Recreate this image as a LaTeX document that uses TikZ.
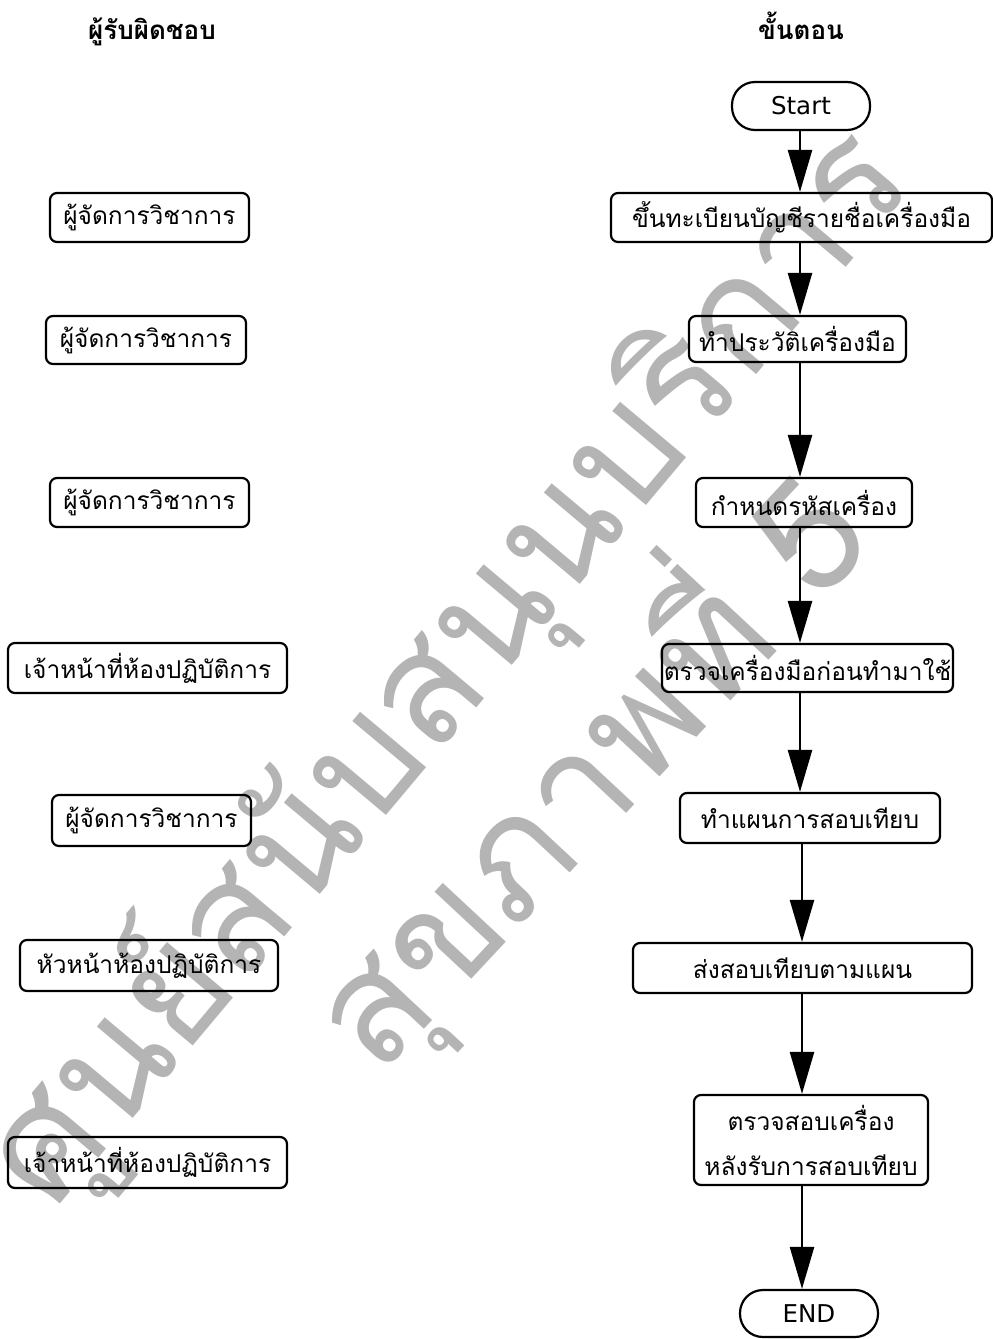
\documentclass[tikz,border=0pt]{standalone}
\usepackage{fontspec}
\newfontfamily\thai[Script=Thai]{Loma}
\newfontfamily\lat{DejaVu Sans}
\usetikzlibrary{arrows.meta}
\definecolor{wm}{RGB}{180,180,180}
\tikzset{
 box/.style={draw, line width=2.2pt, rounded corners=7pt, inner sep=0pt, align=center, font=\thai\fontsize{24.5}{45}\selectfont},
 term/.style={draw, line width=2.2pt, rounded corners=23pt, inner sep=0pt, font=\lat\fontsize{24.5}{28}\selectfont},
 head/.style={anchor=base, inner sep=0pt, font=\thai\bfseries\fontsize{26}{30}\selectfont},
 flow/.style={line width=2.5pt, -{Triangle[width=24pt,length=42pt]}},
 wmark/.style={text=wm, font=\thai\fontsize{155}{155}\selectfont, inner sep=0pt}
}
\begin{document}
\begin{tikzpicture}[x=1pt,y=-1pt]
\useasboundingbox (0,0) rectangle (993,1339);
% watermark
\node[wmark, rotate=50] (w1) at (448,668) {ศูนย์สนับสนุนบริการ};
\node[wmark, rotate=47] (w2) at (585,770) {สุขภาพที่ 5};
% headers
\node[head] (h1) at (152,39) {ผู้รับผิดชอบ};
\node[head] (h2) at (801,39) {ขั้นตอน};
% responsible
\node[box, minimum width=199pt, minimum height=49pt] (r1) at (149.5,217.5) {ผู้จัดการวิชาการ};
\node[box, minimum width=200pt, minimum height=48pt] (r2) at (146,340) {ผู้จัดการวิชาการ};
\node[box, minimum width=199pt, minimum height=49pt] (r3) at (149.5,502.5) {ผู้จัดการวิชาการ};
\node[box, minimum width=279pt, minimum height=50pt] (r4) at (147.5,668) {เจ้าหน้าที่ห้องปฏิบัติการ};
\node[box, minimum width=199pt, minimum height=51pt] (r5) at (151.5,820.5) {ผู้จัดการวิชาการ};
\node[box, minimum width=258pt, minimum height=51pt] (r6) at (149,965.5) {หัวหน้าห้องปฏิบัติการ};
\node[box, minimum width=279pt, minimum height=51pt] (r7) at (147.5,1162.5) {เจ้าหน้าที่ห้องปฏิบัติการ};
% steps
\node[term, minimum width=138pt, minimum height=48pt] (s) at (801,106) {Start};
\node[box, minimum width=381pt, minimum height=49pt] (a) at (801.5,217.5) {ขึ้นทะเบียนบัญชีรายชื่อเครื่องมือ};
\node[box, minimum width=217pt, minimum height=46pt] (b) at (797.5,339) {ทำประวัติเครื่องมือ};
\node[box, minimum width=216pt, minimum height=49pt] (c) at (804,502.5) {กำหนดรหัสเครื่อง};
\node[box, minimum width=291pt, minimum height=48pt] (d) at (807.5,668) {ตรวจเครื่องมือก่อนทำมาใช้};
\node[box, minimum width=260pt, minimum height=50pt] (e) at (810,818) {ทำแผนการสอบเทียบ};
\node[box, minimum width=339pt, minimum height=50pt] (f) at (802.5,968) {ส่งสอบเทียบตามแผน};
\node[box, minimum width=234pt, minimum height=90pt] (g) at (811,1140) {ตรวจสอบเครื่อง\\หลังรับการสอบเทียบ};
\node[term, minimum width=138pt, minimum height=47pt] (z) at (809,1313.5) {END};
% arrows
\coordinate (ax) at (800,0);
\coordinate (bx) at (802,0);
\draw[flow] (s.south -| ax) -- (a.north -| ax);
\draw[flow] (a.south -| ax) -- (b.north -| ax);
\draw[flow] (b.south -| ax) -- (c.north -| ax);
\draw[flow] (c.south -| ax) -- (d.north -| ax);
\draw[flow] (d.south -| ax) -- (e.north -| ax);
\draw[flow] (e.south -| bx) -- (f.north -| bx);
\draw[flow] (f.south -| bx) -- (g.north -| bx);
\draw[flow] (g.south -| bx) -- (z.north -| bx);
\end{tikzpicture}
\end{document}
